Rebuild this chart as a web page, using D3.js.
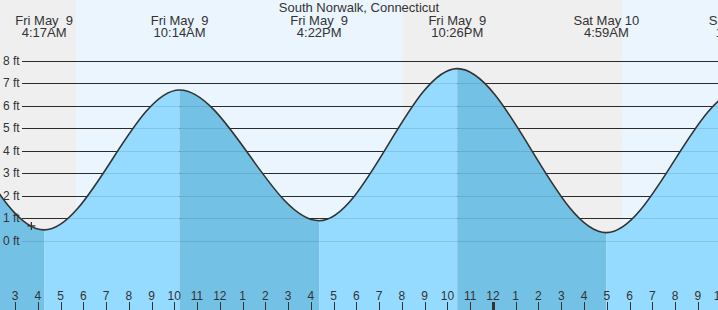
<!DOCTYPE html>
<html>
<head>
<meta charset="utf-8">
<script src="https://cdn.jsdelivr.net/npm/d3@7"></script>
<style>
  html, body { margin: 0; padding: 0; background: #fff; }
  svg { display: block; font-family: "Liberation Sans", Arial, sans-serif; }
  text { white-space: pre; }
</style>
</head>
<body>
<svg id="chart" width="718" height="310"></svg>
<script>
// ---- data (hours measured from Fri May 9 00:00 local time) ----
const title = "South Norwalk, Connecticut";
const eventHours   = [-8.3, -2.08, 4.283, 10.233, 16.367, 22.433, 28.983, 34.93, 41.3];
const eventHeights = [0.9, 7.5, 0.47, 6.69, 0.88, 7.64, 0.35, 6.7, 0.9];
const eventTypes   = ["L", "H", "L", "H", "L", "H", "L", "H", "L"];
const headerEventIdx = [2, 3, 4, 5, 6, 7];
const headerDates  = ["Fri May  9", "Fri May  9", "Fri May  9", "Fri May  9", "Sat May 10", "Sat May 10"];
const headerTimes  = ["4:17AM", "10:14AM", "4:22PM", "10:26PM", "4:59AM", "10:56AM"];
const sunrises = [5.68, 29.67];
const sunsets  = [20.03];
const nowHour = 3.72;
const nowHeight = 0.65;
const yTickValues = [0, 1, 2, 3, 4, 5, 6, 7, 8];
const yTickLabels = ["0 ft", "1 ft", "2 ft", "3 ft", "4 ft", "5 ft", "6 ft", "7 ft", "8 ft"];
const xTickHours = d3.range(3, 35);
const midnightHour = 24;

// ---- layout ----
const W = 718, H = 310;
const svg = d3.select("#chart");
const x = d3.scaleLinear().domain([0, 24]).range([-53.3, 492.94]);
const y = d3.scaleLinear().domain([0, 8]).range([240.5, 60.5]);
const crisp = v => Math.round(v) + 0.5;

const C = {
  night: "#efefef", day: "#ebf5fe",
  flood: "#95dbff", ebb: "#73c1e5",
  ink: "#333333", grid: "#2b2b2b"
};

// backgrounds: day / night
const hStart = x.invert(0), hEnd = x.invert(W);
const bands = [];
bands.push({a: hStart, b: sunrises[0], night: true});
bands.push({a: sunrises[0], b: sunsets[0], night: false});
bands.push({a: sunsets[0], b: sunrises[1], night: true});
bands.push({a: sunrises[1], b: hEnd, night: false});
svg.append("g").selectAll("rect").data(bands).join("rect")
  .attr("x", d => x(d.a)).attr("y", 0)
  .attr("width", d => x(d.b) - x(d.a)).attr("height", H)
  .attr("fill", d => d.night ? C.night : C.day);

// gridlines (dark, above water surface)
const gridG = svg.append("g");
gridG.selectAll("line").data(yTickValues.filter(v => v > 0)).join("line")
  .attr("x1", 22).attr("x2", W)
  .attr("y1", d => crisp(y(d))).attr("y2", d => crisp(y(d)))
  .attr("stroke", C.grid).attr("stroke-width", 1);

// water
const pts = eventHours.map((h, i) => [h, eventHeights[i]]);
const area = d3.area().x(d => x(d[0])).y0(H).y1(d => y(d[1])).curve(d3.curveMonotoneX);
const line = d3.line().x(d => x(d[0])).y(d => y(d[1])).curve(d3.curveMonotoneX);

svg.append("clipPath").attr("id", "water").append("path").attr("d", area(pts));

const waterG = svg.append("g").attr("clip-path", "url(#water)");
const tideBands = [];
for (let i = 0; i < eventHours.length - 1; i++) {
  tideBands.push({a: eventHours[i], b: eventHours[i + 1], ebb: eventTypes[i] === "H"});
}
waterG.selectAll("rect").data(tideBands).join("rect")
  .attr("x", d => x(d.a)).attr("y", 0)
  .attr("width", d => x(d.b) - x(d.a)).attr("height", H)
  .attr("fill", d => d.ebb ? C.ebb : C.flood);
waterG.append("g").selectAll("line").data(yTickValues).join("line")
  .attr("x1", 22).attr("x2", W)
  .attr("y1", d => crisp(y(d))).attr("y2", d => crisp(y(d)))
  .attr("stroke", "#000").attr("stroke-opacity", 0.1).attr("stroke-width", 1);

// tide curve
svg.append("path").attr("d", line(pts))
  .attr("fill", "none").attr("stroke", C.ink).attr("stroke-width", 1.6);

// y labels
svg.append("g").selectAll("text").data(yTickValues).join("text")
  .attr("x", 3).attr("y", d => y(d) + 4.3)
  .attr("font-size", 12).attr("fill", C.ink)
  .text((d, i) => yTickLabels[i]);

// x ticks and labels
const xg = svg.append("g");
xg.selectAll("line").data(xTickHours).join("line")
  .attr("x1", d => crisp(x(d))).attr("x2", d => crisp(x(d)))
  .attr("y1", 302).attr("y2", H)
  .attr("stroke", C.ink)
  .attr("stroke-width", d => d === midnightHour ? 3 : 1);
xg.selectAll("text").data(xTickHours).join("text")
  .attr("x", d => x(d)).attr("y", 300)
  .attr("text-anchor", "middle").attr("font-size", 12).attr("fill", C.ink)
  .text(d => String((d % 12) || 12));

// header labels
const hg = svg.append("g").attr("font-size", 13).attr("fill", C.ink).attr("text-anchor", "middle");
headerEventIdx.forEach((ei, i) => {
  const cx = x(eventHours[ei]);
  hg.append("text").attr("x", cx).attr("y", 24.5).text(headerDates[i]);
  hg.append("text").attr("x", cx).attr("y", 36.5).text(headerTimes[i]);
});
svg.append("text").attr("x", 359).attr("y", 12)
  .attr("text-anchor", "middle").attr("font-size", 13).attr("fill", C.ink)
  .text(title);

// current-time marker
const mx = x(nowHour), my = y(nowHeight);
svg.append("path")
  .attr("d", `M${mx - 4},${my}H${mx + 4}M${mx},${my - 4}V${my + 4}`)
  .attr("stroke", C.ink).attr("stroke-width", 1.3).attr("fill", "none");
</script>
</body>
</html>
